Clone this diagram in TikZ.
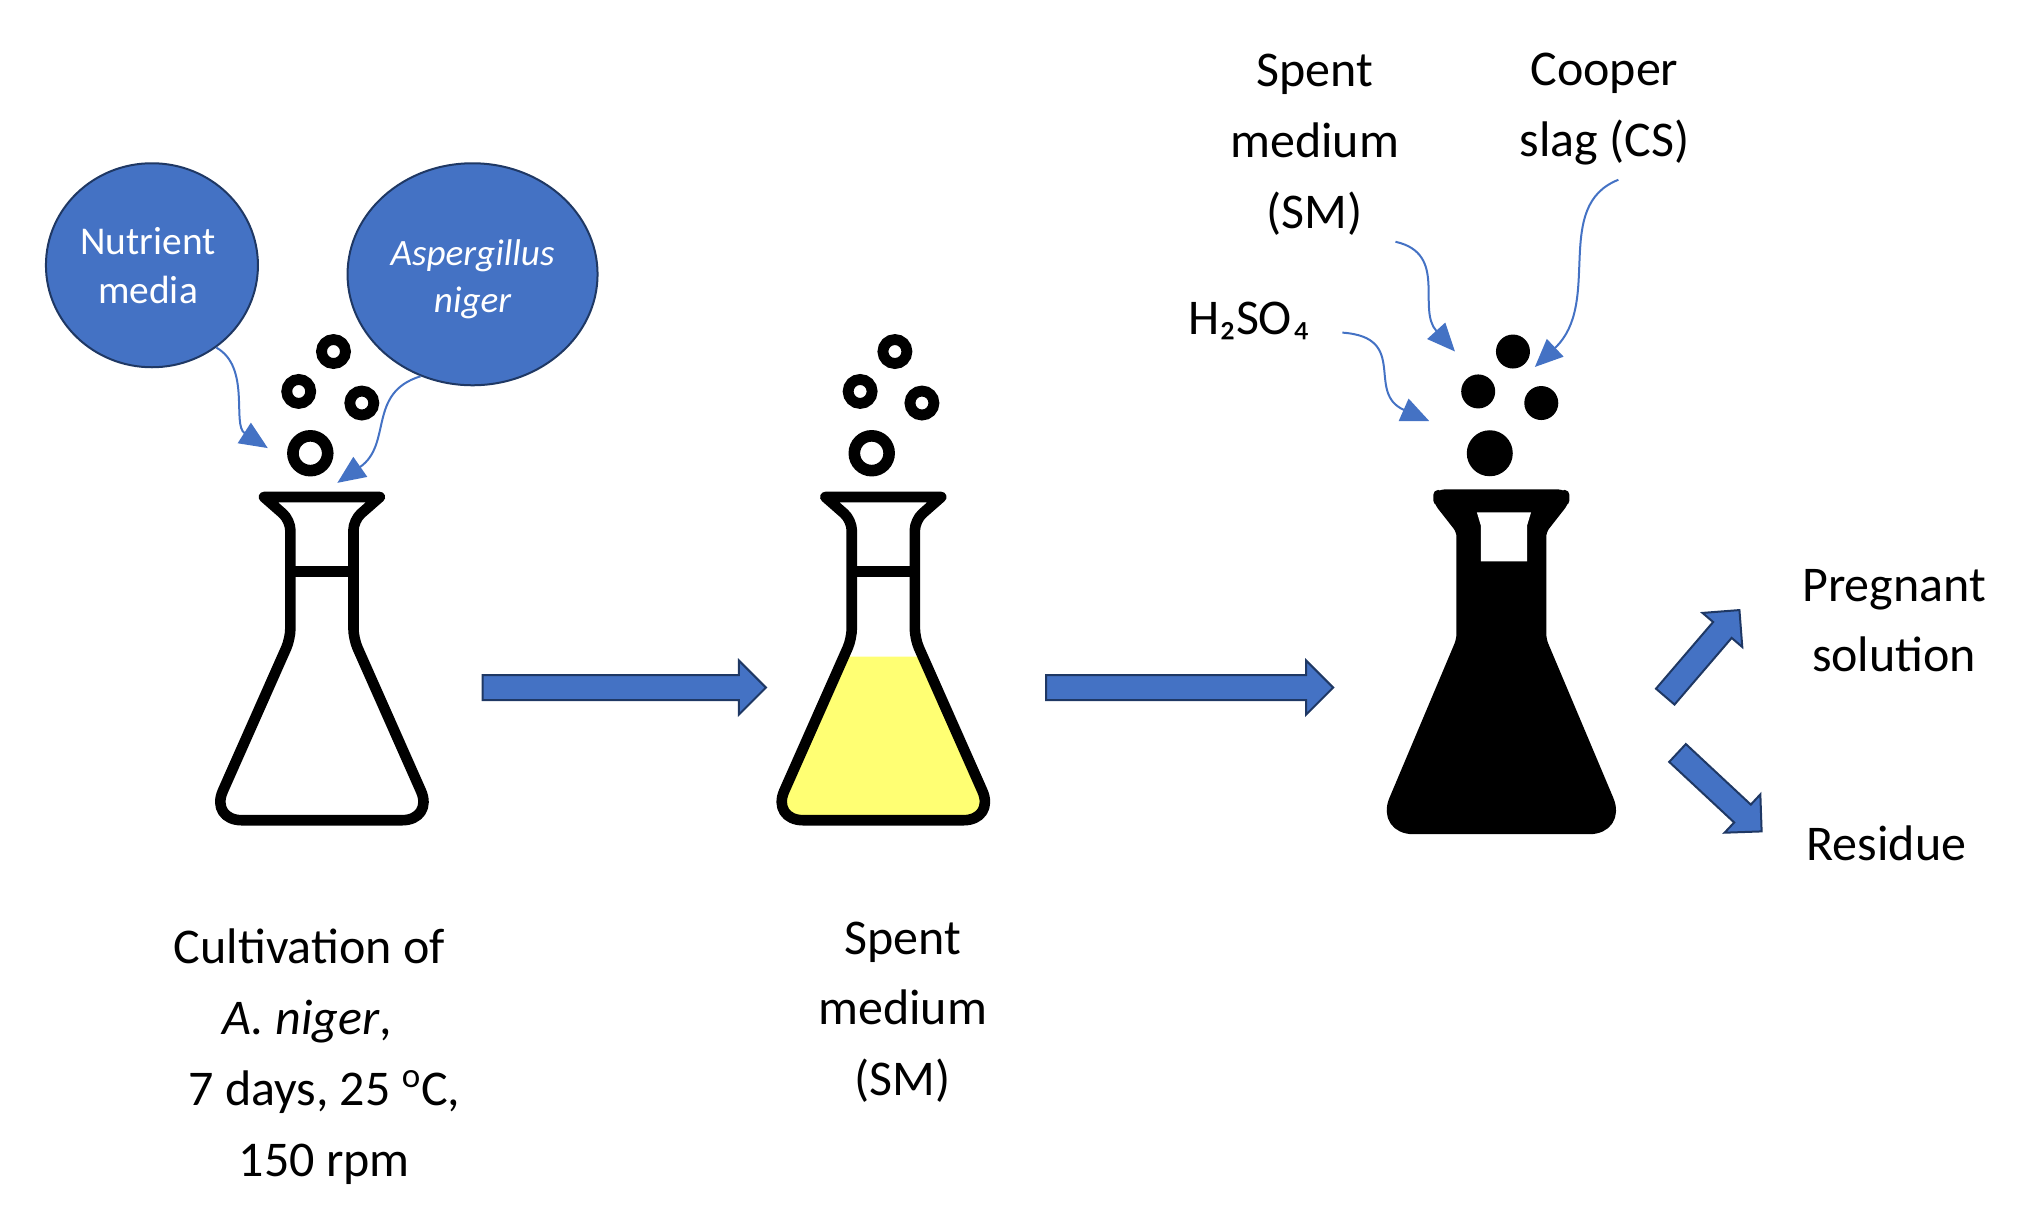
\documentclass[tikz,border=0pt]{standalone}
\usepackage{fontspec}
\setmainfont{Carlito}
\usetikzlibrary{arrows.meta}
\usetikzlibrary{shapes.arrows}
\usetikzlibrary{shapes.geometric}
\definecolor{msblue}{HTML}{4472C4}
\definecolor{msdark}{HTML}{1F3864}
\definecolor{spentyellow}{HTML}{FFFF73}

\begin{document}
\begin{tikzpicture}[
    x=0.6438pt, y=-0.6438pt,
    caption/.style={align=center, inner sep=0pt, font=\fontsize{25}{35.4}\selectfont},
    blob/.style={ellipse, draw=msdark, line width=1pt, fill=msblue, text=white, align=center, inner sep=0pt, font=\fontsize{19.7}{24.4}\selectfont},
    ring/.style={circle, draw, line width=5.4pt, inner sep=0pt, minimum size=12pt},
    bigring/.style={ring, minimum size=17.4pt, line width=5.8pt},
    dot/.style={circle, fill, inner sep=0pt, minimum size=17pt},
    bigdot/.style={dot, minimum size=23pt},
    flow/.style={single arrow, draw=msdark, line width=1pt, fill=msblue, inner xsep=0pt, inner ysep=5.6pt, single arrow head extend=7pt, single arrow tip angle=90},
    feed/.style={msblue, line width=1pt, -{Triangle[length=14pt,width=12pt]}},
    flaskline/.style={line width=5.3pt, line join=round},
    flask/.pic={
      \draw[flaskline] (-45,0) -- (45,0) [rounded corners=5pt] -- (24.5,18) -- (24.5,110) [rounded corners=16pt] -- (87,251) -- (-87,251) [rounded corners=5pt] -- (-24.5,110) -- (-24.5,18) [sharp corners] -- cycle;
      \draw[line width=5.3pt] (-25,58) -- (25,58);
    }
  ]
    \useasboundingbox (0,0) rectangle (1568,939);

    % first flask
    \node[blob, minimum width=106pt, minimum height=102pt] (nutrient) at (118,206) {\hspace*{-3.9pt}Nutrient\\\hspace*{-3.9pt}media};
    \node[blob, minimum width=125pt, minimum height=111pt, font=\fontsize{18.6}{23.2}\selectfont\itshape] (aspergillus) at (367,213) {\rule{0pt}{18pt}Aspergillus\\niger};
    \node[ring] (ringa) at (259,273) {};
    \node[ring] (ringb) at (232,304) {};
    \node[ring] (ringc) at (281,313) {};
    \node[bigring] (ringd) at (241,352) {};
    \pic at (250,386) {flask};
    \coordinate (nutrienttip) at (208,348);
    \coordinate (aspergillustip) at (262,375);
    \draw[feed] (nutrient.-52) .. controls (195,285) and (180,330) .. (nutrienttip);
    \draw[feed] (aspergillus.-117) .. controls (285,305) and (305,345) .. (aspergillustip);
    \node[caption] (cultivation) at (248,820.5) {\hspace*{-10pt}Cultivation of\\\hspace*{-12pt}\textit{A. niger},\\\hspace*{5pt}7 days, 25 \textsuperscript{o}C,\\\hspace*{5pt}150 rpm};

    % second flask
    \fill[spentyellow] (655,510) -- (717,510) [rounded corners=16pt] -- (773,637) -- (599,637) [sharp corners] -- cycle;
    \node[ring] (ringe) at (695,273) {};
    \node[ring] (ringf) at (668,304) {};
    \node[ring] (ringg) at (716,313) {};
    \node[bigring] (ringh) at (677,352) {};
    \pic at (686,386) {flask};
    \node[caption] (spent) at (701,786) {Spent\\medium\\(SM)};

    % third flask
    \draw[fill, line width=5pt, line join=round] (1117,384) [rounded corners=3pt] -- (1215,384) -- (1215,389) -- (1197,412) -- (1197,497) [rounded corners=16pt] -- (1259,644) -- (1073,644) [rounded corners=3pt] -- (1135,497) -- (1135,412) -- (1117,389) -- cycle;
    \fill[white] (1147,398) -- (1189,398) -- (1186,408) -- (1186,436) -- (1150,436) -- (1150,408) -- cycle;
    \node[dot] (dota) at (1175,273) {};
    \node[dot] (dotb) at (1148,304) {};
    \node[dot] (dotc) at (1197,313) {};
    \node[bigdot] (dotd) at (1157,352) {};
    \node[caption] (medium) at (1021,112.5) {Spent\\medium\\(SM)};
    \node[caption] (slag) at (1246,85) {Cooper\\slag (CS)};
    \node[caption] (acid) at (970,249) {H₂SO₄};
    \coordinate (mediumtip) at (1130,273);
    \coordinate (slagtip) at (1192,285);
    \coordinate (acidtip) at (1110,327);
    \draw[feed] ([xshift=-2pt,yshift=-3pt]medium.south east) .. controls (1125,197) and (1100,240) .. (mediumtip);
    \draw[feed] ([xshift=7pt,yshift=-7pt]slag.south) .. controls (1205,160) and (1245,235) .. (slagtip);
    \draw[feed] ([xshift=16pt,yshift=-6pt]acid.east) .. controls (1095,262) and (1060,305) .. (acidtip);

    % block arrows and products
    \node[flow, minimum height=141.6pt, minimum width=27pt] (flowa) at (480,534) {};
    \node[flow, minimum height=143.6pt, minimum width=27pt] (flowb) at (919,534) {};
    \node[flow, minimum height=57pt, minimum width=25pt, rotate=49.4] (flowc) at (1319,511) {};
    \node[flow, minimum height=57.5pt, minimum width=25pt, rotate=-43] (flowd) at (1332,612) {};
    \node[caption] (pregnant) at (1471,482) {Pregnant\\solution};
    \node[caption] (residue) at (1465,655) {Residue};
  \end{tikzpicture}
\end{document}
